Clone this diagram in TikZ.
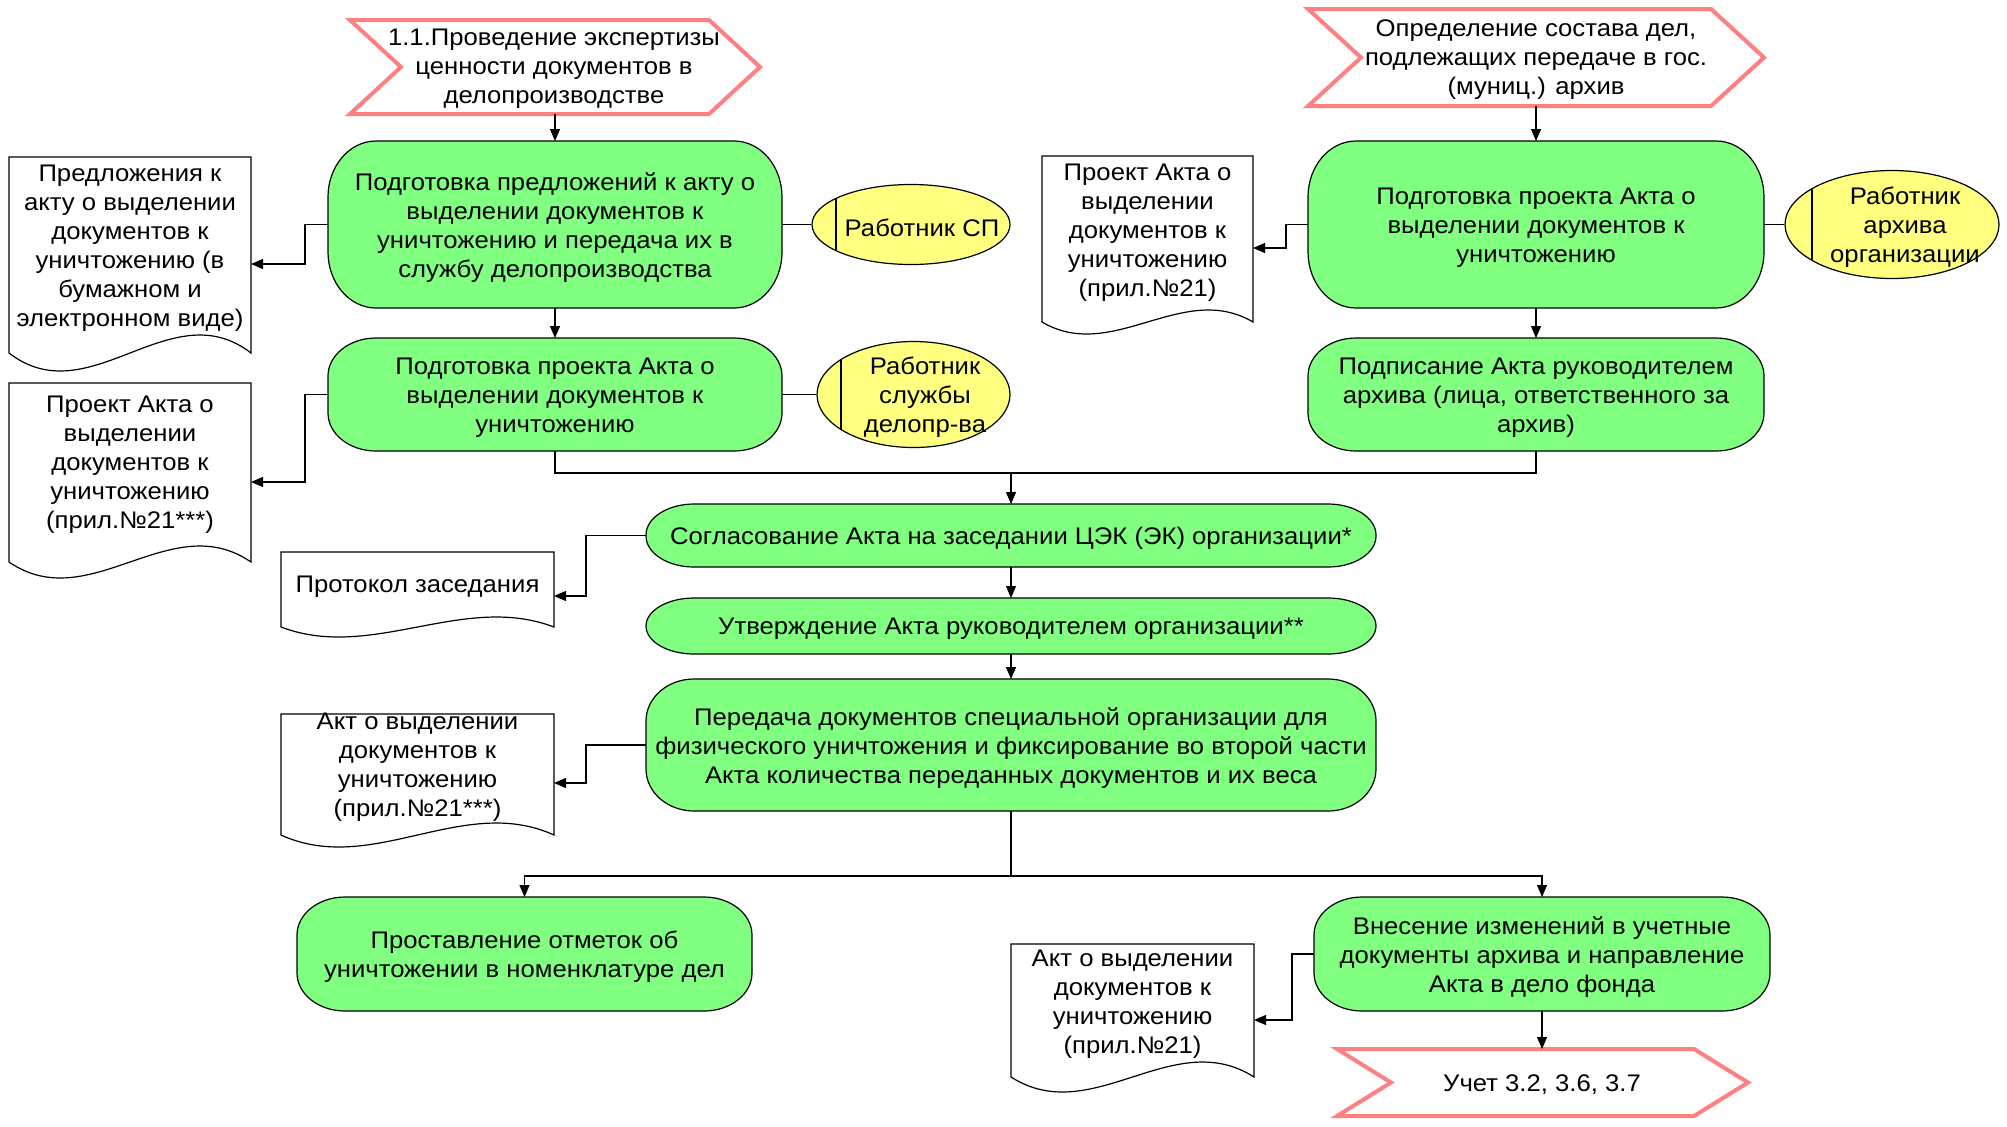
\documentclass[tikz,border=0pt]{standalone}
\usepackage{fontspec}
\setmainfont{Liberation Sans}[FakeStretch=1.07]
\usetikzlibrary{arrows.meta,shapes.geometric,fit,calc}
\definecolor{gfill}{RGB}{128,255,128}
\definecolor{yfill}{RGB}{255,255,128}
\definecolor{pinkline}{RGB}{255,128,128}
\tikzset{
  txt/.style={font=\fontsize{12}{14.5}\selectfont, align=center, inner sep=0pt, yshift=-1.5pt},
  gshape/.style={draw=black, line width=0.6pt, fill=gfill},
  dshape/.style={draw=black, line width=0.6pt, fill=white},
  cshape/.style={draw=pinkline, line width=2pt, fill=white, line join=miter},
  ell/.style={ellipse, draw=black, line width=0.6pt, fill=yfill, inner sep=0pt,
     path picture={\draw[line width=0.6pt] ([xshift=#1]path picture bounding box.south west) -- ([xshift=#1]path picture bounding box.north west);}},
  conn/.style={draw=black, line width=0.6pt},
  arr/.style={conn, -{Triangle[length=6pt,width=5pt]}},
  helper/.style={inner sep=0pt, outer sep=0pt}
}
% green box: name, x1, y1, x2, y2, ry, text
\newcommand\gbox[7]{%
  \draw[gshape] ({#2+48},#3) -- ({#4-48},#3)
    arc[start angle=-90,end angle=0,x radius=48,y radius=#6] -- (#4,{#5-#6})
    arc[start angle=0,end angle=90,x radius=48,y radius=#6] -- ({#2+48},#5)
    arc[start angle=90,end angle=180,x radius=48,y radius=#6] -- (#2,{#3+#6})
    arc[start angle=180,end angle=270,x radius=48,y radius=#6] -- cycle;
  \node[helper, fit={(#2,#3)(#4,#5)}] (#1) {};
  \node[txt] (#1t) at (#1.center) {#7};
}
% document: name, x1, ytop, x2, yb, amplitude, text y, text
\newcommand\docshape[8]{%
  \draw[dshape] (#2,#3) -- (#4,#3) -- (#4,#5)
    .. controls ({#4-(#4-#2)/3},{#5-3.46*#6}) and ({#2+(#4-#2)/3},{#5+3.46*#6}) .. (#2,#5) -- cycle;
  \node[helper, fit={(#2,#3)(#4,#5)}] (#1) {};
  \node[txt] (#1t) at ({(#2+#4)/2},#7) {#8};
}
% chevron: name, x1, y1, x2, y2, depth, text pos, text
\newcommand\chev[8]{%
  \draw[cshape] (#2,#3) -- ({#4-#6},#3) -- (#4,{(#3+#5)/2}) -- ({#4-#6},#5) -- (#2,#5) -- ({#2+#6},{(#3+#5)/2}) -- cycle;
  \node[helper, fit={(#2,#3)(#4,#5)}] (#1) {};
  \node[txt] (#1t) at (#7) {#8};
}
\begin{document}
\begin{tikzpicture}[x=0.5pt,y=-0.5pt]
\useasboundingbox (0,0) rectangle (2007,1126);
\fill[white] (0,0) rectangle (2007,1126);

% chevrons
\chev{c1}{350}{20}{760}{114}{51}{554,66}{1.1.Проведение экспертизы\\ценности документов в\\делопроизводстве}
\chev{c2}{1308}{9}{1764}{106}{53}{1536,57}{Определение состава дел,\\подлежащих передаче в гос.\\(муниц.) архив}
\chev{c3}{1337}{1049}{1748}{1116}{54}{1542,1082}{Учет 3.2, 3.6, 3.7}

% green boxes
\gbox{b1}{328}{141}{782}{308}{56}{Подготовка предложений к акту о\\выделении документов к\\уничтожению и передача их в\\службу делопроизводства}
\gbox{b2}{328}{338}{782}{451}{38}{Подготовка проекта Акта о\\выделении документов к\\уничтожению}
\gbox{b3}{1308}{141}{1764}{308}{56}{Подготовка проекта Акта о\\выделении документов к\\уничтожению}
\gbox{b4}{1308}{338}{1764}{451}{38}{Подписание Акта руководителем\\архива (лица, ответственного за\\архив)}
\gbox{b5}{646}{504}{1376}{567}{31}{Согласование Акта на заседании ЦЭК (ЭК) организации*}
\gbox{b6}{646}{598}{1376}{654}{28}{Утверждение Акта руководителем организации**}
\gbox{b7}{646}{679}{1376}{811}{42}{Передача документов специальной организации для\\физического уничтожения и фиксирование во второй части\\Акта количества переданных документов и их веса}
\gbox{b8}{297}{897}{752}{1011}{38}{Проставление отметок об\\уничтожении в номенклатуре дел}
\gbox{b9}{1314}{897}{1770}{1011}{38}{Внесение изменений в учетные\\документы архива и направление\\Акта в дело фонда}

% documents
\docshape{d1}{9}{157}{251}{353}{18}{245}{Предложения к\\акту о выделении\\документов к\\уничтожению (в\\бумажном и\\электронном виде)}
\docshape{d2}{9}{383}{251}{562}{16}{462}{Проект Акта о\\выделении\\документов к\\уничтожению\\(прил.№21***)}
\docshape{d3}{1042}{156}{1253}{322}{12}{230}{Проект Акта о\\выделении\\документов к\\уничтожению\\(прил.№21)}
\docshape{d4}{281}{552}{554}{627}{10}{584}{Протокол заседания}
\docshape{d5}{281}{714}{554}{835}{12}{764}{Акт о выделении\\документов к\\уничтожению\\(прил.№21***)}
\docshape{d6}{1011}{944}{1254}{1077}{15}{1001}{Акт о выделении\\документов к\\уничтожению\\(прил.№21)}

% ellipses
\node[ell=12pt, minimum width=99pt, minimum height=40pt] (e1) at (911,224.5) {};
\node[txt] (e1t) at (922,224.5) {Работник СП};
\node[ell=12pt, minimum width=96.5pt, minimum height=53pt] (e2) at (913.5,394.5) {};
\node[txt] (e2t) at (925,394.5) {Работник\\службы\\делопр-ва};
\node[ell=13.5pt, minimum width=107pt, minimum height=54pt] (e3) at (1892,224.5) {};
\node[txt] (e3t) at (1905,224.5) {Работник\\архива\\организации};

% connectors: main flow
\draw[arr] (c1.south) -- (b1.north);
\draw[arr] (b1.south) -- (b2.north);
\draw[arr] (c2.south) -- (b3.north);
\draw[arr] (b3.south) -- (b4.north);
\coordinate (m1) at (1011,473);
\draw[conn] (b2.south) |- (m1);
\draw[conn] (b4.south) |- (m1);
\draw[arr] (m1) -- (b5.north);
\draw[arr] (b5.south) -- (b6.north);
\draw[arr] (b6.south) -- (b7.north);
\coordinate (m2) at (1011,876);
\draw[conn] (b7.south) -- (m2);
\draw[arr] (m2) -| (b8.north);
\draw[arr] (m2) -| (b9.north);
\draw[arr] (b9.south) -- (b9.south |- c3.north);

% performers
\draw[conn] (b1.east) -- (e1.west);
\draw[conn] (b2.east) -- (e2.west);
\draw[conn] (b3.east) -- (e3.west);

% documents produced
\draw[arr] (b1.west) -- ++(-23,0) |- (d1.east |- {(0,264)});
\draw[arr] (b2.west) -- ++(-23,0) |- (d2.east |- {(0,482)});
\draw[arr] (b3.west) -- ++(-22,0) |- (d3.east |- {(0,248)});
\draw[arr] (b5.west) -- ++(-60,0) |- (d4.east |- {(0,596)});
\draw[arr] (b7.west) -- ++(-60,0) |- (d5.east |- {(0,783)});
\draw[arr] (b9.west) -- ++(-22,0) |- (d6.east |- {(0,1020)});
\end{tikzpicture}
\end{document}
